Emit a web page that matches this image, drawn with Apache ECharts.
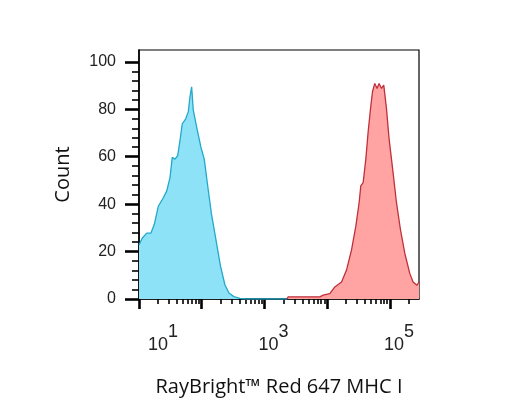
<!DOCTYPE html>
<html>
<head>
<meta charset="UTF-8">
<title>MHC I histogram</title>
<script type="text/javascript" src="https://cdn.jsdelivr.net/npm/echarts@6.0.0/dist/echarts.min.js"></script>
<style>
html, body { margin: 0; padding: 0; background: #fff; }
</style>
</head>
<body>
	<div id="box" style="width:508px;height:407px;"></div>
	<script type="text/javascript">
		// unstained / control histogram (intensity, count)
		var controlX = [10, 11.3, 13.3, 15.5, 17.5, 20.3, 24.4, 27.6, 31.2, 33.9, 37.4, 41.3, 45, 48.9, 55.5, 61, 64.9, 69,
			73.3, 83, 97, 109.6, 123.3, 142.6, 168.3, 198.6, 233.9, 271, 325.8, 405.5, 505.8, 2300];
		var controlY = [22.8, 25.7, 27.8, 27.8, 31.4, 39.1, 42.7, 45.5, 51.2, 59.7, 59, 60.4, 66.8, 73.9, 76, 78.9, 85.2, 89.5,
			79.6, 72.5, 64, 59, 48.5, 36, 25, 14, 6, 2.5, 1, 0.3, 0, 0];

		// stained histogram
		var stainedX = [2300, 2382, 7621, 8610, 10990, 13210, 16900, 20290, 24380, 28510, 32210, 34280, 37330, 41210, 44790,
			48950, 52620, 57240, 62330, 66990, 73250, 79590, 87900, 96790, 112000, 126900, 147000, 172100, 206700,
			233300, 270200, 290000];
		var stainedY = [0, 0.9, 0.9, 1.6, 2.3, 5.1, 7.2, 12.2, 20.7, 30.6, 40.6, 47.7, 49.1, 59, 70.3,
			80.3, 87.4, 90.9, 88.8, 90.9, 88.8, 90.2, 80.3, 67.5, 53.3, 40.6, 29.2, 19.3, 10.8,
			7.2, 5.8, 7.2];

		var yTicks = [0, 20, 40, 60, 80, 100];
		var yMinorTicks = [4, 8, 12, 16, 24, 28, 32, 36, 44, 48, 52, 56, 64, 68, 72, 76, 84, 88, 92, 96];
		var xDecades = [10, 100, 1000, 10000, 100000];
		var xLabels = [10, 1000, 100000];
		var xMinorTicks = [];
		xDecades.forEach(function (d) {
			for (var k = 2; k <= 9; k++) {
				if (d * k <= 290000) xMinorTicks.push(d * k);
			}
		});

		function pairs(xs, ys) {
			return xs.map(function (x, i) { return [x, ys[i]]; });
		}

		var mychart = echarts.init(document.getElementById('box'), null, { renderer: 'canvas' });
		var option = {
			animation: false,
			grid: {
				left: 139, right: 89, top: 50, bottom: 108,
				show: true, borderColor: '#000', borderWidth: 1.2, backgroundColor: 'transparent'
			},
			xAxis: [{
				type: 'log', logBase: 10, min: 10, max: 290000, position: 'bottom',
				axisLine: { show: true, lineStyle: { color: '#000', width: 1.6 } },
				axisTick: { show: true, customValues: xMinorTicks, length: 5, lineStyle: { color: '#000', width: 1.6 } },
				axisLabel: { show: false },
				splitLine: { show: false }
			}, {
				type: 'log', logBase: 10, min: 10, max: 290000, position: 'bottom',
				axisLine: { show: false },
				axisTick: { show: true, customValues: xDecades, length: 10, lineStyle: { color: '#000', width: 2.6 } },
				axisLabel: {
					show: true, customValues: xLabels, margin: 24,
					formatter: function (v) {
						var e = Math.round(Math.log(v) / Math.LN10);
						return (e === 1 ? '{p1|}' : '{p|}') + '{b|10}{s|' + e + '}';
					},
					rich: {
						p: { width: 18, lineHeight: 31 },
						p1: { width: 48, lineHeight: 31 },
						b: { fontSize: 18, fontFamily: 'Liberation Sans', color: '#222', verticalAlign: 'bottom', lineHeight: 18 },
						s: { fontSize: 18, fontFamily: 'Liberation Sans', color: '#222', verticalAlign: 'top', lineHeight: 18 }
					}
				},
				splitLine: { show: false },
				name: 'RayBright™ Red 647 MHC I', nameLocation: 'middle', nameGap: 78,
				nameTextStyle: { fontFamily: 'Open Sans', fontSize: 20, color: '#111' }
			}],
			yAxis: [{
				type: 'value', min: 0, max: 105, position: 'left',
				axisLine: { show: true, lineStyle: { color: '#000', width: 1.6 } },
				axisTick: { show: true, customValues: yTicks, length: 14, lineStyle: { color: '#000', width: 2.6 } },
				axisLabel: { show: true, customValues: yTicks, margin: 23, fontSize: 16, fontFamily: 'Liberation Sans', color: '#222' },
				splitLine: { show: false },
				name: 'Count', nameLocation: 'middle', nameGap: 66,
				nameTextStyle: { fontFamily: 'Open Sans', fontSize: 20, color: '#111' }
			}, {
				type: 'value', min: 0, max: 105, position: 'left',
				axisLine: { show: false },
				axisTick: { show: true, customValues: yMinorTicks, length: 7, lineStyle: { color: '#000', width: 1.6 } },
				axisLabel: { show: false },
				splitLine: { show: false }
			}],
			series: [{
				name: 'Control', type: 'line', xAxisIndex: 0, yAxisIndex: 0,
				data: pairs(controlX, controlY),
				showSymbol: false, smooth: false,
				lineStyle: { color: '#22a9c9', width: 1.3 },
				areaStyle: { color: '#8ee2f8', opacity: 1 }
			}, {
				name: 'MHC I', type: 'line', xAxisIndex: 0, yAxisIndex: 0,
				data: pairs(stainedX, stainedY),
				showSymbol: false, smooth: false,
				lineStyle: { color: '#c0303a', width: 1.3 },
				areaStyle: { color: '#ffa3a3', opacity: 1 }
			}]
		};
		mychart.setOption(option);
	</script>
</body>
</html>
